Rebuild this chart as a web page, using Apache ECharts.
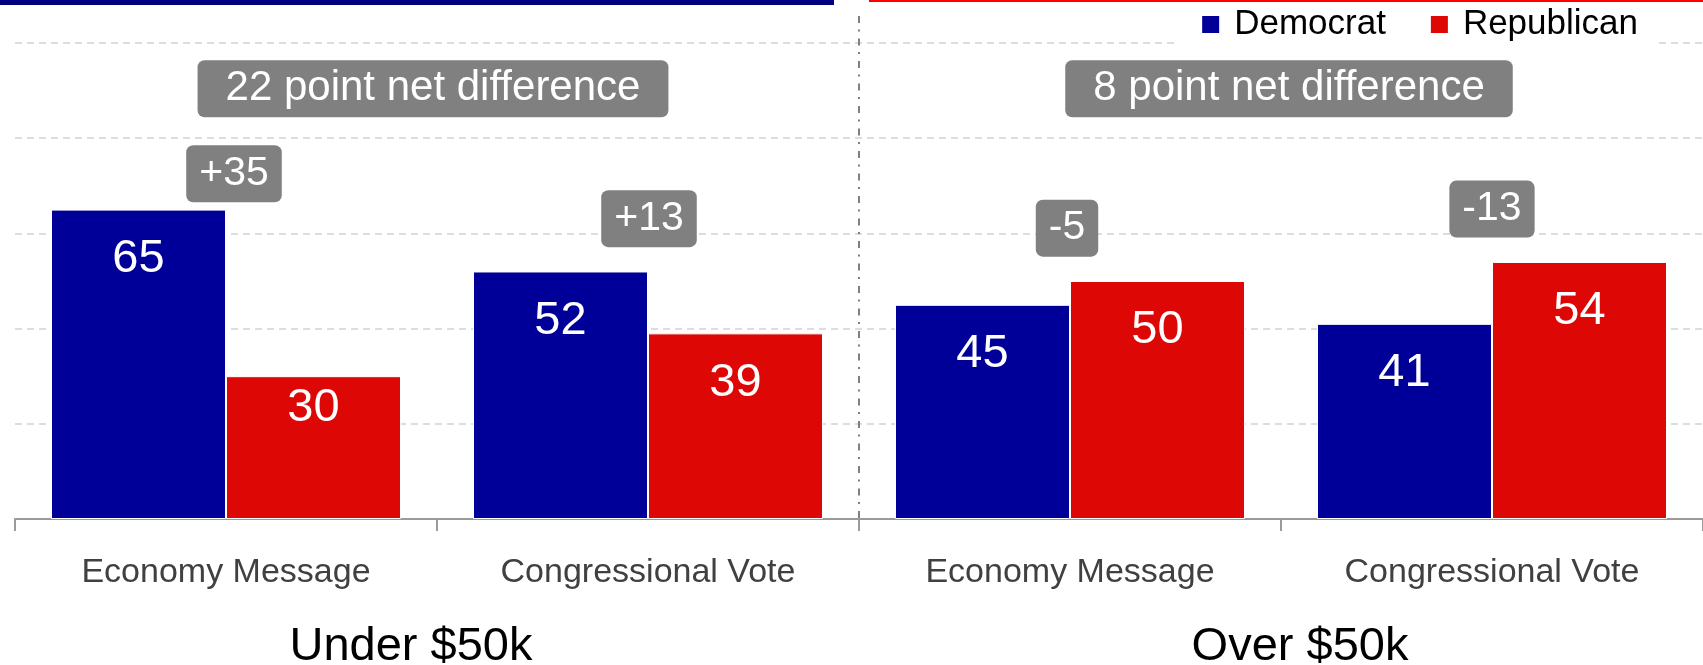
<!DOCTYPE html>
<html>
<head>
<meta charset="utf-8">
<script src="https://cdn.jsdelivr.net/npm/echarts@6/dist/echarts.min.js"></script>
<style>
html,body{margin:0;padding:0;background:#fff;}
#c{width:1703px;height:665px;}
</style>
</head>
<body>
<div id="c"></div>
<script>
// ---- data ----
const categories = ['Economy Message', 'Congressional Vote', 'Economy Message', 'Congressional Vote'];
const groupLabels = ['Under $50k', 'Over $50k'];
const seriesNames = ['Democrat', 'Republican'];
const democrat = [65, 52, 45, 41];
const republican = [30, 39, 50, 54];
const yTicks = [0, 20, 40, 60, 80, 100];

// ---- derived values ----
const diffs = democrat.map((d, i) => d - republican[i]);
const netDiffs = [diffs[0] - diffs[1], diffs[2] - diffs[3]];
const signed = v => (v > 0 ? '+' : '') + v;

// ---- style ----
const FONT = '"Liberation Sans", Arial, Helvetica, sans-serif';
const BLUE = '#000099';
const RED = '#DD0806';
const BOX = '#808080';
const DIFF_GAP = 11.1;          // value units above the taller bar
const NET_Y = 90.4;             // value-axis height of the net-difference boxes
const diffNudge = [[8, 17], [1, 0], [-3, 0], [0, 0]];
const netNudge = [[-4, 0], [8, 0]];
const titleNudge = [-26, 19];
const demLabelDist = [26, 26, 26, 26];
const repLabelDist = [8, 26, 26, 26];

const chart = echarts.init(document.getElementById('c'), null, { renderer: 'canvas' });

const barLabel = {
  show: true, position: 'insideTop', distance: 26,
  color: '#fff', fontSize: 47, lineHeight: 47, fontFamily: FONT
};
const hidden = { color: 'rgba(0,0,0,0)', borderWidth: 0, opacity: 1 };

const option = {
  animation: false,
  backgroundColor: '#fff',
  grid: { left: 15, right: 0, top: 43, bottom: 146, outerBoundsMode: 'none' },
  legend: {
    data: seriesNames, right: 44, top: 4,
    padding: [3, 21, 10, 21], backgroundColor: '#fff',
    itemWidth: 19, itemHeight: 19, itemGap: 43, icon: 'rect',
    textStyle: { fontSize: 35, color: '#000', fontFamily: FONT, padding: [0, 0, 0, 9] },
    selectedMode: false
  },
  xAxis: [
    {
      type: 'category', data: categories,
      axisLine: { show: true, lineStyle: { color: '#9a9a9a', width: 2 } },
      axisTick: { show: true, alignWithLabel: false, length: 12, lineStyle: { color: '#9a9a9a', width: 2 } },
      axisLabel: { interval: 0, fontSize: 34, color: '#404040', fontFamily: FONT, margin: 37 },
      splitLine: { show: false }
    },
    { type: 'value', min: 0, max: categories.length, show: false }
  ],
  yAxis: {
    type: 'value', min: yTicks[0], max: yTicks[yTicks.length - 1], interval: yTicks[1] - yTicks[0],
    axisLine: { show: false }, axisTick: { show: false }, axisLabel: { show: false },
    splitLine: { lineStyle: { color: '#d2d2d2', width: 1.5, type: [7, 5] } }
  },
  series: [
    {
      name: seriesNames[0], type: 'bar',
      data: democrat.map((v, i) => ({ value: v, label: { distance: demLabelDist[i] } })),
      barWidth: 175, barGap: '0%',
      itemStyle: { color: BLUE, borderColor: '#ffffff', borderWidth: 1 },
      label: barLabel
    },
    {
      name: seriesNames[1], type: 'bar',
      data: republican.map((v, i) => ({ value: v, label: { distance: repLabelDist[i] } })),
      barWidth: 175, barGap: '0%',
      itemStyle: { color: RED, borderColor: '#ffffff', borderWidth: 1 },
      label: barLabel
    },
    {
      type: 'scatter', xAxisIndex: 1, silent: true, clip: false, z: 5,
      symbolSize: 2, itemStyle: hidden,
      data: diffs.map((v, i) => ({
        value: [i + 0.5, Math.max(democrat[i], republican[i]) + DIFF_GAP],
        label: { offset: diffNudge[i] }
      })),
      label: {
        show: true, position: 'inside',
        formatter: p => signed(diffs[p.dataIndex]),
        color: '#fff', fontSize: 41, lineHeight: 41, fontFamily: FONT,
        backgroundColor: BOX, borderRadius: 7, padding: [11, 13, 5, 13]
      }
    },
    {
      type: 'scatter', xAxisIndex: 1, silent: true, clip: false, z: 5,
      symbolSize: 2, itemStyle: hidden,
      data: netDiffs.map((v, i) => ({
        value: [2 * i + 1, NET_Y],
        label: { offset: netNudge[i] }
      })),
      label: {
        show: true, position: 'inside',
        formatter: p => netDiffs[p.dataIndex] + ' point net difference',
        color: '#fff', fontSize: 42, lineHeight: 43, fontFamily: FONT,
        backgroundColor: BOX, borderRadius: 7, padding: [10, 28, 4, 28]
      }
    }
  ]
};

chart.setOption(option);

// decorations positioned through the axes
const axisY = chart.convertToPixel({ yAxisIndex: 0 }, 0);
const divX = chart.convertToPixel({ xAxisIndex: 1 }, categories.length / 2);
const graphics = [
  { type: 'rect', z: 100, shape: { x: 0, y: 0, width: 834, height: 5 }, style: { fill: '#000080' }, silent: true },
  { type: 'rect', z: 100, shape: { x: 869, y: 0, width: 834, height: 2 }, style: { fill: '#FF0000' }, silent: true },
  {
    type: 'line', silent: true, z: 1,
    shape: { x1: divX, y1: 16, x2: divX, y2: axisY },
    style: { stroke: '#808080', lineWidth: 2, lineDash: [7, 6.5, 2, 7] }
  }
];
groupLabels.forEach((t, g) => {
  const cx = chart.convertToPixel({ xAxisIndex: 1 }, 2 * g + 1) + titleNudge[g];
  graphics.push({
    type: 'text', silent: true, x: cx, y: 647,
    style: { text: t, fill: '#000', font: '47px ' + FONT, textAlign: 'center', textVerticalAlign: 'middle' }
  });
});
chart.setOption({ graphic: graphics });
</script>
</body>
</html>
